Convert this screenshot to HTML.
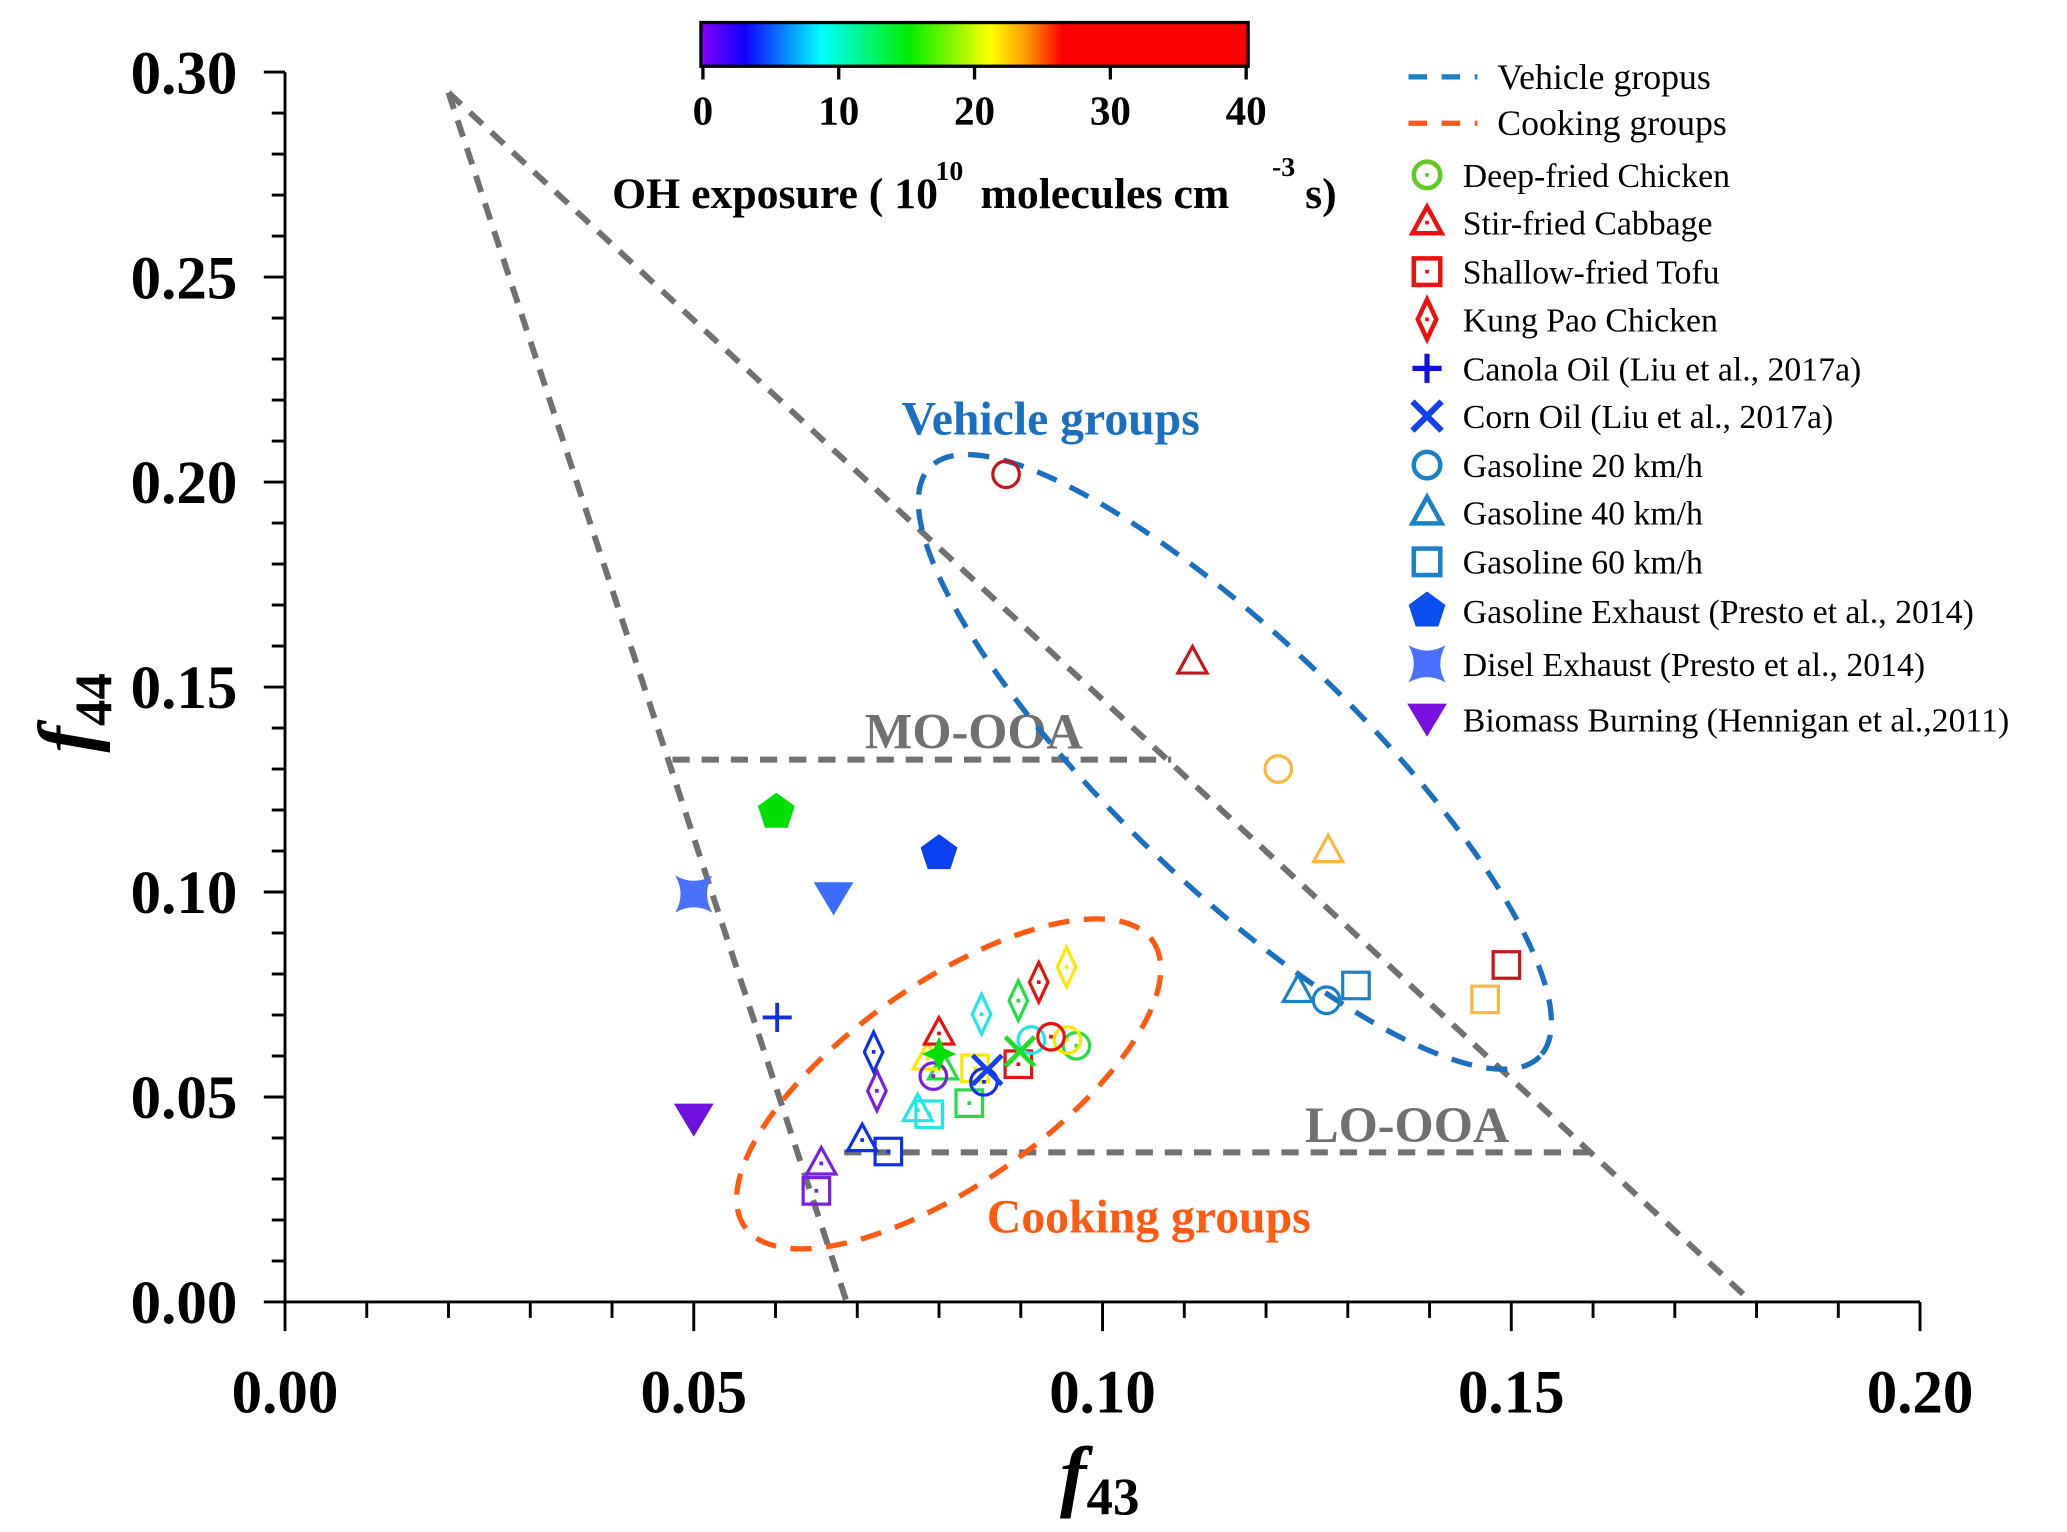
<!DOCTYPE html>
<html><head><meta charset="utf-8"><style>
html,body{margin:0;padding:0;background:#fff;}
svg{display:block;font-family:"Liberation Serif",serif;}
</style></head><body>
<svg id="chart" width="2067" height="1532" viewBox="0 0 1560 1156.2" preserveAspectRatio="none" xmlns="http://www.w3.org/2000/svg">
<defs>
<linearGradient id="cmap" x1="0" x2="1" y1="0" y2="0">
<stop offset="0" stop-color="#8a00ff"/><stop offset="0.08" stop-color="#1000ff"/>
<stop offset="0.22" stop-color="#00ffff"/><stop offset="0.38" stop-color="#00ee00"/>
<stop offset="0.53" stop-color="#ffff00"/><stop offset="0.6" stop-color="#ff9000"/>
<stop offset="0.66" stop-color="#ff0000"/><stop offset="1" stop-color="#ff0000"/>
</linearGradient>
</defs>
<g id="axes"></g>
<g id="guides"></g>
<g id="marks"></g>
<g id="legend"></g>
<g id="cbar"></g>
</svg>
<script>
// ---- data ----
const xTicks = [0.00, 0.05, 0.10, 0.15, 0.20];
const xTickLabels = ["0.00","0.05","0.10","0.15","0.20"];
const yTicks = [0.00, 0.05, 0.10, 0.15, 0.20, 0.25, 0.30];
const yTickLabels = ["0.00","0.05","0.10","0.15","0.20","0.25","0.30"];
const cbarTicks = [0, 10, 20, 30, 40];
// cooking experiments (OH exposure colour groups)
const cookGroups = ["purple","blue","cyan","green","yellow","red"];
const cookColors = ["#7a1ee6","#1030e6","#22e6e6","#22dd44","#ffe600","#e81010"];
const chickenX = [0.0793,0.0855,0.0913,0.0968,0.0957,0.0937];
const chickenY = [0.0551,0.0537,0.0639,0.0625,0.0639,0.0647];
const cabbageX = [0.0656,0.0706,0.0774,0.0805,0.0786,0.0800];
const cabbageY = [0.0338,0.0395,0.0468,0.0570,0.0594,0.0655];
const tofuX = [0.0650,0.0738,0.0788,0.0837,0.0844,0.0897];
const tofuY = [0.0271,0.0367,0.0458,0.0485,0.0570,0.0580];
const kungpaoX = [0.0724,0.0720,0.0852,0.0897,0.0922,0.0956];
const kungpaoY = [0.0515,0.0610,0.0702,0.0735,0.0780,0.0817];
const kungpaoC = [0,1,2,3,5,4];
// vehicle groups
const vehColors = ["#1a80c8","#f8b840","#c8141c"];
const gas20X = [0.1274,0.1215,0.0882]; const gas20Y = [0.0736,0.130,0.2019];
const gas40X = [0.1239,0.1276,0.1110]; const gas40Y = [0.0759,0.110,0.156];
const gas60X = [0.1310,0.1468,0.1494]; const gas60Y = [0.0772,0.0738,0.0822];
// literature references
const canolaX = [0.0602]; const canolaY = [0.0694];
const cornX = [0.0859,0.0899]; const cornY = [0.0566,0.0611];
const cornColors = ["#1040f0","#22dd22"];
const gasExhX = [0.0601,0.0800]; const gasExhY = [0.1195,0.1094];
const gasExhColors = ["#00e000","#0b40f0"];
const dieselX = [0.0500,0.0800]; const dieselY = [0.0995,0.0605];
const dieselColors = ["#4a70ff","#00e000"];
const biomassX = [0.0671,0.0500]; const biomassY = [0.0985,0.0445];
const biomassColors = ["#3a6cff","#7010e0"];
// triangle guide lines (f43,f44)
const triApexX = 0.020, triApexY = 0.295;
const triLeftX = 0.0687, triRightX = 0.1794;
const moY = 0.1323, moX0 = 0.0474, moX1 = 0.1084;
const loY = 0.0365, loX0 = 0.0684, loX1 = 0.1595;

// ---- scales ----
const X0=215.1, XS=6170, Y0=982.6, YS=3094;
const xs = v => X0 + v*XS;
const ys = v => Y0 - v*YS;
const NS="http://www.w3.org/2000/svg";
function mk(tag, attrs, parent){const e=document.createElementNS(NS,tag);for(const k in attrs)e.setAttribute(k,attrs[k]);parent.appendChild(e);return e;}
const axes=document.getElementById('axes');
const guides=document.getElementById('guides');
const marks=document.getElementById('marks');
const legend=document.getElementById('legend');
const cbar=document.getElementById('cbar');

// ---- axes ----
let el;
el=mk('line',{x1:xs(0),y1:ys(0.30),x2:xs(0),y2:ys(0)+0.8,stroke:'#000','stroke-width':2.2},axes);
 
el=mk('line',{x1:xs(0)-1,y1:ys(0),x2:xs(0.20),y2:ys(0),stroke:'#000','stroke-width':2.2},axes);
 
for(let i=0;i<=30;i++){
  const v=i/100, major=i%5===0;
  el=mk('line',{x1:xs(0),y1:ys(v),x2:xs(0)-(major?16:10),y2:ys(v),stroke:'#000','stroke-width':2.2},axes);
   
}
for(let i=0;i<=20;i++){
  const v=i/100, major=i%5===0;
  el=mk('line',{x1:xs(v),y1:ys(0),x2:xs(v),y2:ys(0)+(major?22:12),stroke:'#000','stroke-width':2.2},axes);
   
}
yTicks.forEach((v,i)=>{
  el=mk('text',{x:xs(0)-36,y:ys(v)+16,'text-anchor':'end','font-size':46,'font-weight':'bold'},axes);
  el.textContent=yTickLabels[i];
   
});
xTicks.forEach((v,i)=>{
  el=mk('text',{x:xs(v),y:1066,'text-anchor':'middle','font-size':46,'font-weight':'bold'},axes);
  el.textContent=xTickLabels[i];
   
});
el=mk('text',{x:0,y:0,'font-size':60,'font-weight':'bold','font-style':'italic',transform:'translate(70,568) rotate(-90)'},axes);
el.innerHTML='f<tspan font-size="40" font-style="normal" dy="14">44</tspan>';
 
el=mk('text',{x:800,y:1133,'font-size':60,'font-weight':'bold','font-style':'italic'},axes);
el.innerHTML='f<tspan font-size="40" font-style="normal" dy="10">43</tspan>';
 

// ---- guide lines ----
const gstyle={stroke:'#707070','stroke-width':4.5,'stroke-dasharray':'13 9',fill:'none'};
function gline(x1,y1,x2,y2,name){el=mk('line',Object.assign({x1:xs(x1),y1:ys(y1),x2:xs(x2),y2:ys(y2)},gstyle),guides);
   }
gline(triApexX,triApexY,triRightX,0,'triangle-right-edge');
gline(triApexX,triApexY,triLeftX,0,'triangle-left-edge');
gline(moX0,moY,moX1,moY,'mo-ooa-line');
gline(loX0,loY,loX1,loY,'lo-ooa-line');
el=mk('text',{x:735,y:565,'text-anchor':'middle','font-size':38,'font-weight':'bold',fill:'#707070'},guides);
el.textContent='MO-OOA';  
el=mk('text',{x:1062,y:862,'text-anchor':'middle','font-size':38,'font-weight':'bold',fill:'#707070'},guides);
el.textContent='LO-OOA';  
el=mk('ellipse',{cx:932,cy:575,rx:320,ry:92,transform:'rotate(44 932 575)',fill:'none',stroke:'#1a70c0','stroke-width':4,'stroke-dasharray':'16 11'},guides);
 
el=mk('ellipse',{cx:716,cy:818,rx:188,ry:76,transform:'rotate(-35 716 818)',fill:'none',stroke:'#ff5a10','stroke-width':4,'stroke-dasharray':'16 11'},guides);
 
el=mk('text',{x:793,y:328,'text-anchor':'middle','font-size':36,'font-weight':'bold',fill:'#1a70c0'},guides);
el.textContent='Vehicle groups';  
el=mk('text',{x:867,y:930,'text-anchor':'middle','font-size':36,'font-weight':'bold',fill:'#ff5a10'},guides);
el.textContent='Cooking groups';  

// ---- marker shapes ----
function dot(g,cx,cy,c,s){const d=1.4*(s||1);mk('rect',{x:cx-d,y:cy-d,width:2*d,height:2*d,fill:c},g);}
function shape(kind,cx,cy,c,parent,withDot,s,sw){
  s=s||1; sw=sw||2.4; const g=mk('g',{},parent);
  if(kind==='circle'){mk('circle',{cx,cy,r:10*s,fill:'none',stroke:c,'stroke-width':sw},g);}
  else if(kind==='triangle'){mk('polygon',{points:`${cx},${cy-12*s} ${cx+11*s},${cy+8*s} ${cx-11*s},${cy+8*s}`,fill:'none',stroke:c,'stroke-width':sw},g);}
  else if(kind==='square'){mk('rect',{x:cx-10*s,y:cy-10*s,width:20*s,height:20*s,fill:'none',stroke:c,'stroke-width':sw},g);}
  else if(kind==='diamond'){mk('polygon',{points:`${cx},${cy-15*s} ${cx+7*s},${cy} ${cx},${cy+15*s} ${cx-7*s},${cy}`,fill:'none',stroke:c,'stroke-width':sw},g);}
  else if(kind==='plus'){mk('path',{d:`M${cx-11*s},${cy}H${cx+11*s}M${cx},${cy-11*s}V${cy+11*s}`,stroke:c,'stroke-width':sw+0.5},g);}
  else if(kind==='x'){mk('path',{d:`M${cx-11*s},${cy-11*s}L${cx+11*s},${cy+11*s}M${cx+11*s},${cy-11*s}L${cx-11*s},${cy+11*s}`,stroke:c,'stroke-width':sw+1.2},g);}
  else if(kind==='pentagon'){let p=[];for(let k=0;k<5;k++){const a=-Math.PI/2+k*2*Math.PI/5;p.push((cx+14*s*Math.cos(a)).toFixed(1)+','+(cy+14*s*Math.sin(a)).toFixed(1));}
    mk('polygon',{points:p.join(' '),fill:c,stroke:c,'stroke-width':1,'stroke-linejoin':'round'},g);}
  else if(kind==='star4'){const r=14*s,q=6*s;
    mk('path',{d:`M${cx-r},${cy-r}Q${cx},${cy-q} ${cx+r},${cy-r}Q${cx+q},${cy} ${cx+r},${cy+r}Q${cx},${cy+q} ${cx-r},${cy+r}Q${cx-q},${cy} ${cx-r},${cy-r}Z`,fill:c},g);}
  else if(kind==='star4up'){const r=13*s,q=4*s;
    mk('path',{d:`M${cx},${cy-r}L${cx+q},${cy-q}L${cx+r},${cy}L${cx+q},${cy+q}L${cx},${cy+r}L${cx-q},${cy+q}L${cx-r},${cy}L${cx-q},${cy-q}Z`,fill:c},g);}
  else if(kind==='invtri'){mk('polygon',{points:`${cx-15*s},${cy-12*s} ${cx+15*s},${cy-12*s} ${cx},${cy+13*s}`,fill:c},g);}
  if(withDot) dot(g,cx,cy,c,s);
  return g;
}
function series(kind,X,Y,colors,name,withDot){
  X.forEach((v,i)=>{const g=shape(kind,xs(v),ys(Y[i]),colors[i],marks,withDot);
     });
}
series('diamond',kungpaoX,kungpaoY,kungpaoC.map(i=>cookColors[i]),'kung-pao-chicken-point',true);
series('square',tofuX,tofuY,cookColors,'shallow-fried-tofu-point',true);
series('triangle',cabbageX,cabbageY,cookColors,'stir-fried-cabbage-point',true);
series('circle',chickenX,chickenY,cookColors,'deep-fried-chicken-point',true);
series('circle',gas20X,gas20Y,vehColors,'gasoline-20-point',false);
series('triangle',gas40X,gas40Y,vehColors,'gasoline-40-point',false);
series('square',gas60X,gas60Y,vehColors,'gasoline-60-point',false);
series('plus',canolaX,canolaY,['#1030e0'],'canola-oil-point',false);
series('pentagon',gasExhX,gasExhY,gasExhColors,'gasoline-exhaust-point',false);
dieselX.forEach((v,i)=>{const g=shape(i===0?'star4':'star4up',xs(v),ys(dieselY[i]),dieselColors[i],marks,false);
   });
series('invtri',biomassX,biomassY,biomassColors,'biomass-burning-point',false);
series('x',cornX,cornY,cornColors,'corn-oil-point',false);

// ---- legend ----
const legNames=["Deep-fried Chicken","Stir-fried Cabbage","Shallow-fried Tofu","Kung Pao Chicken","Canola Oil (Liu et al., 2017a)","Corn Oil (Liu et al., 2017a)","Gasoline 20 km/h","Gasoline 40 km/h","Gasoline 60 km/h","Gasoline Exhaust (Presto et al., 2014)","Disel Exhaust (Presto et al., 2014)","Biomass Burning (Hennigan et al.,2011)"];
const legKinds=['circle','triangle','square','diamond','plus','x','circle','triangle','square','pentagon','star4','invtri'];
const legColors=['#60c820','#ee1010','#ee1010','#ee1010','#1010e0','#1040f0','#1a80c8','#1a80c8','#1a80c8','#0b4ff0','#4a70ff','#7a10e0'];
const legRowY=[132,168,205,241,278,314,351,387,424,461,501,543];
el=mk('line',{x1:1063,y1:58,x2:1115,y2:58,stroke:'#1a80c8','stroke-width':4,'stroke-dasharray':'14 11'},legend);
 
el=mk('text',{x:1130,y:67,'font-size':27},legend); el.textContent='Vehicle gropus';
 
el=mk('line',{x1:1063,y1:93,x2:1115,y2:93,stroke:'#ff5a10','stroke-width':4,'stroke-dasharray':'14 11'},legend);
 
el=mk('text',{x:1130,y:102,'font-size':27},legend); el.textContent='Cooking groups';
 
legNames.forEach((n,i)=>{
  const g=shape(legKinds[i],1077,legRowY[i],legColors[i],legend,i<4,1.0,3.4);
   
  el=mk('text',{x:1104,y:legRowY[i]+9,'font-size':25.5},legend); el.textContent=n;
   
});

// ---- colorbar ----
const CB0=529, CB1=942;
el=mk('rect',{x:CB0,y:17,width:CB1-CB0,height:33,fill:'url(#cmap)',stroke:'#000','stroke-width':2.5},cbar);
 
cbarTicks.forEach(v=>{
  const x=CB0+(v/40)*(CB1-CB0-3)+1.5;
  el=mk('line',{x1:x,y1:50,x2:x,y2:60,stroke:'#000','stroke-width':2.5},cbar);
   
  el=mk('text',{x:x,y:94,'text-anchor':'middle','font-size':31,'font-weight':'bold'},cbar); el.textContent=String(v);
   
});
const tg=mk('g',{'font-weight':'bold'},cbar);
 
el=mk('text',{x:462,y:157,'font-size':33},tg); el.textContent='OH exposure ( 10';
el=mk('text',{x:706,y:136,'font-size':21},tg); el.textContent='10';
el=mk('text',{x:740,y:157,'font-size':33},tg); el.textContent='molecules cm';
el=mk('text',{x:960,y:133,'font-size':21},tg); el.textContent='-3';
el=mk('text',{x:985,y:157,'font-size':33},tg); el.textContent='s)';
</script>
</body></html>
